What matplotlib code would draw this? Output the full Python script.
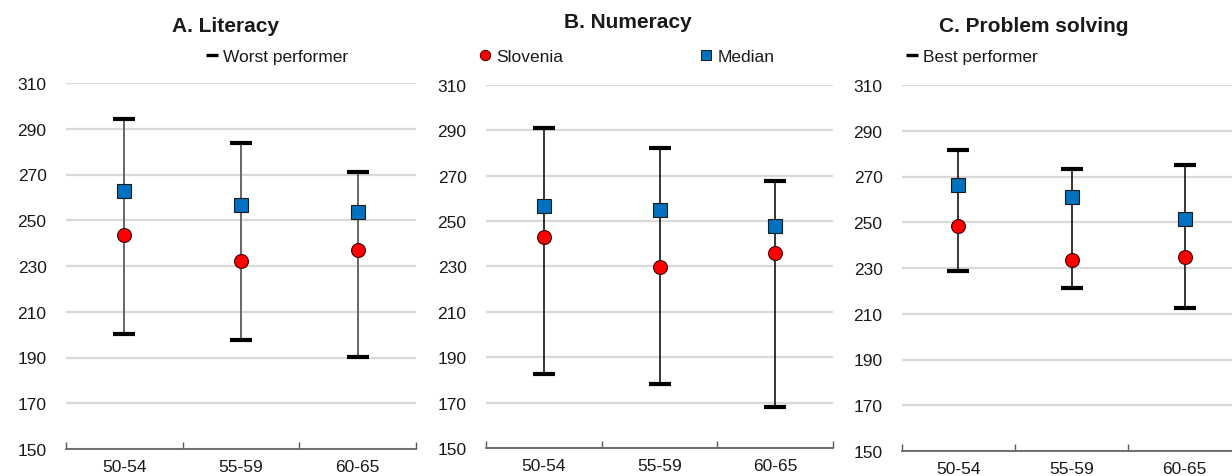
import matplotlib
matplotlib.use("Agg")
import matplotlib.pyplot as plt
from matplotlib.lines import Line2D

plt.rcParams["font.family"] = ["Liberation Sans", "DejaVu Sans"]

# Age groups and PIAAC scores by domain
age_groups = ["50-54", "55-59", "60-65"]

literacy_slovenia = [243.7, 232.3, 236.9]
literacy_median = [263.0, 256.8, 253.5]
literacy_worst = [200.1, 197.5, 190.1]
literacy_best = [294.3, 283.6, 271.0]

numeracy_slovenia = [242.8, 229.9, 235.8]
numeracy_median = [256.8, 255.0, 248.0]
numeracy_worst = [182.5, 178.1, 168.0]
numeracy_best = [290.9, 282.1, 267.6]

problem_slovenia = [248.3, 233.5, 234.8]
problem_median = [266.4, 261.0, 251.6]
problem_worst = [228.5, 221.1, 212.4]
problem_best = [281.6, 273.1, 275.0]

panel_titles = ["A. Literacy", "B. Numeracy", "C. Problem solving"]
y_ticks = [150, 170, 190, 210, 230, 250, 270, 290, 310]

W, H = 1232, 477
fig = plt.figure(figsize=(W / 100, H / 100), dpi=100)

RED = "#FF0000"
BLUE = "#0070C0"
GRID = "#D9D9D9"
AXIS = "#595959"
TEXT = "#1a1a1a"
FS = 12.5


def px_axes(x0, x1, ytop, ybot):
    return fig.add_axes([x0 / W, (H - ybot) / H, (x1 - x0) / W, (ybot - ytop) / H])


panels = [
    dict(box=(66, 416, 84, 450), stem="#666666", stem_lw=1.4,
         data=(literacy_slovenia, literacy_median, literacy_worst, literacy_best),
         title_xy=(226, 27)),
    dict(box=(486, 833, 86, 449), stem="#000000", stem_lw=1.1,
         data=(numeracy_slovenia, numeracy_median, numeracy_worst, numeracy_best),
         title_xy=(628, 23)),
    dict(box=(902, 1241, 86, 452), stem="#000000", stem_lw=1.1,
         data=(problem_slovenia, problem_median, problem_worst, problem_best),
         title_xy=(1034, 27)),
]

axes = []
for p, title in zip(panels, panel_titles):
    ax = px_axes(*p["box"])
    axes.append(ax)
    slo, med, worst, best = p["data"]
    x = list(range(len(age_groups)))

    ax.vlines(x, worst, best, color=p["stem"], lw=p["stem_lw"], zorder=3)
    ax.plot(x, worst, ls="none", marker="_", markersize=16, mew=3.0,
            color="black", zorder=4)
    ax.plot(x, best, ls="none", marker="_", markersize=16, mew=3.0,
            color="black", zorder=4)
    ax.plot(x, med, ls="none", marker="s", markersize=9.5, mfc=BLUE,
            mec="#1a1a1a", mew=0.8, zorder=5)
    ax.plot(x, slo, ls="none", marker="o", markersize=10, mfc=RED,
            mec="#3a0000", mew=0.8, zorder=6)

    ax.set_xlim(-0.5, 2.5)
    ax.set_ylim(150, 310)
    ax.set_yticks(y_ticks)
    ax.set_xticks(x)
    ax.set_xticklabels(age_groups)
    ax.set_xticks([-0.5, 0.5, 1.5, 2.5], minor=True)

    for s in ("left", "right", "top"):
        ax.spines[s].set_visible(False)
    ax.spines["bottom"].set_color(AXIS)
    ax.spines["bottom"].set_linewidth(1.2)
    ax.spines["bottom"].set_zorder(2)

    ax.yaxis.grid(True, color=GRID, lw=1.6, zorder=0)
    ax.set_axisbelow(True)
    ax.tick_params(axis="y", length=0, pad=14, labelsize=FS, labelcolor=TEXT)
    ax.tick_params(axis="x", which="major", length=0, pad=7.5, labelsize=FS,
                   labelcolor=TEXT)
    ax.tick_params(axis="x", which="minor", direction="in", length=5,
                   width=1.0, color=AXIS)

    fig.text(p["title_xy"][0] / W, 1 - p["title_xy"][1] / H, title,
             ha="center", va="center", fontsize=15, fontweight="bold",
             color=TEXT)

leg_y = 1 - 57 / H
dash = Line2D([], [], color="black", lw=2.4, solid_capstyle="butt")
legend_kw = dict(loc="center left", bbox_transform=fig.transFigure,
                 frameon=False, handlelength=0.68, handletextpad=0.3,
                 borderpad=0, borderaxespad=0, fontsize=FS,
                 labelcolor=TEXT)

axes[0].legend([dash], ["Worst performer"], bbox_to_anchor=(206 / W, leg_y),
               **legend_kw)

slo_handle = Line2D([], [], ls="none", marker="o", markersize=7.5, mfc=RED,
                    mec="#3a0000", mew=0.7)
med_handle = Line2D([], [], ls="none", marker="s", markersize=7, mfc=BLUE,
                    mec="#1a1a1a", mew=0.7)
axes[1].legend([slo_handle, med_handle], ["Slovenia", "Median"], ncol=2,
               columnspacing=7.9, bbox_to_anchor=(479 / W, leg_y), **legend_kw)

axes[2].legend([dash], ["Best performer"], bbox_to_anchor=(906 / W, leg_y),
               **legend_kw)

fig.savefig("out.png", dpi=100)
